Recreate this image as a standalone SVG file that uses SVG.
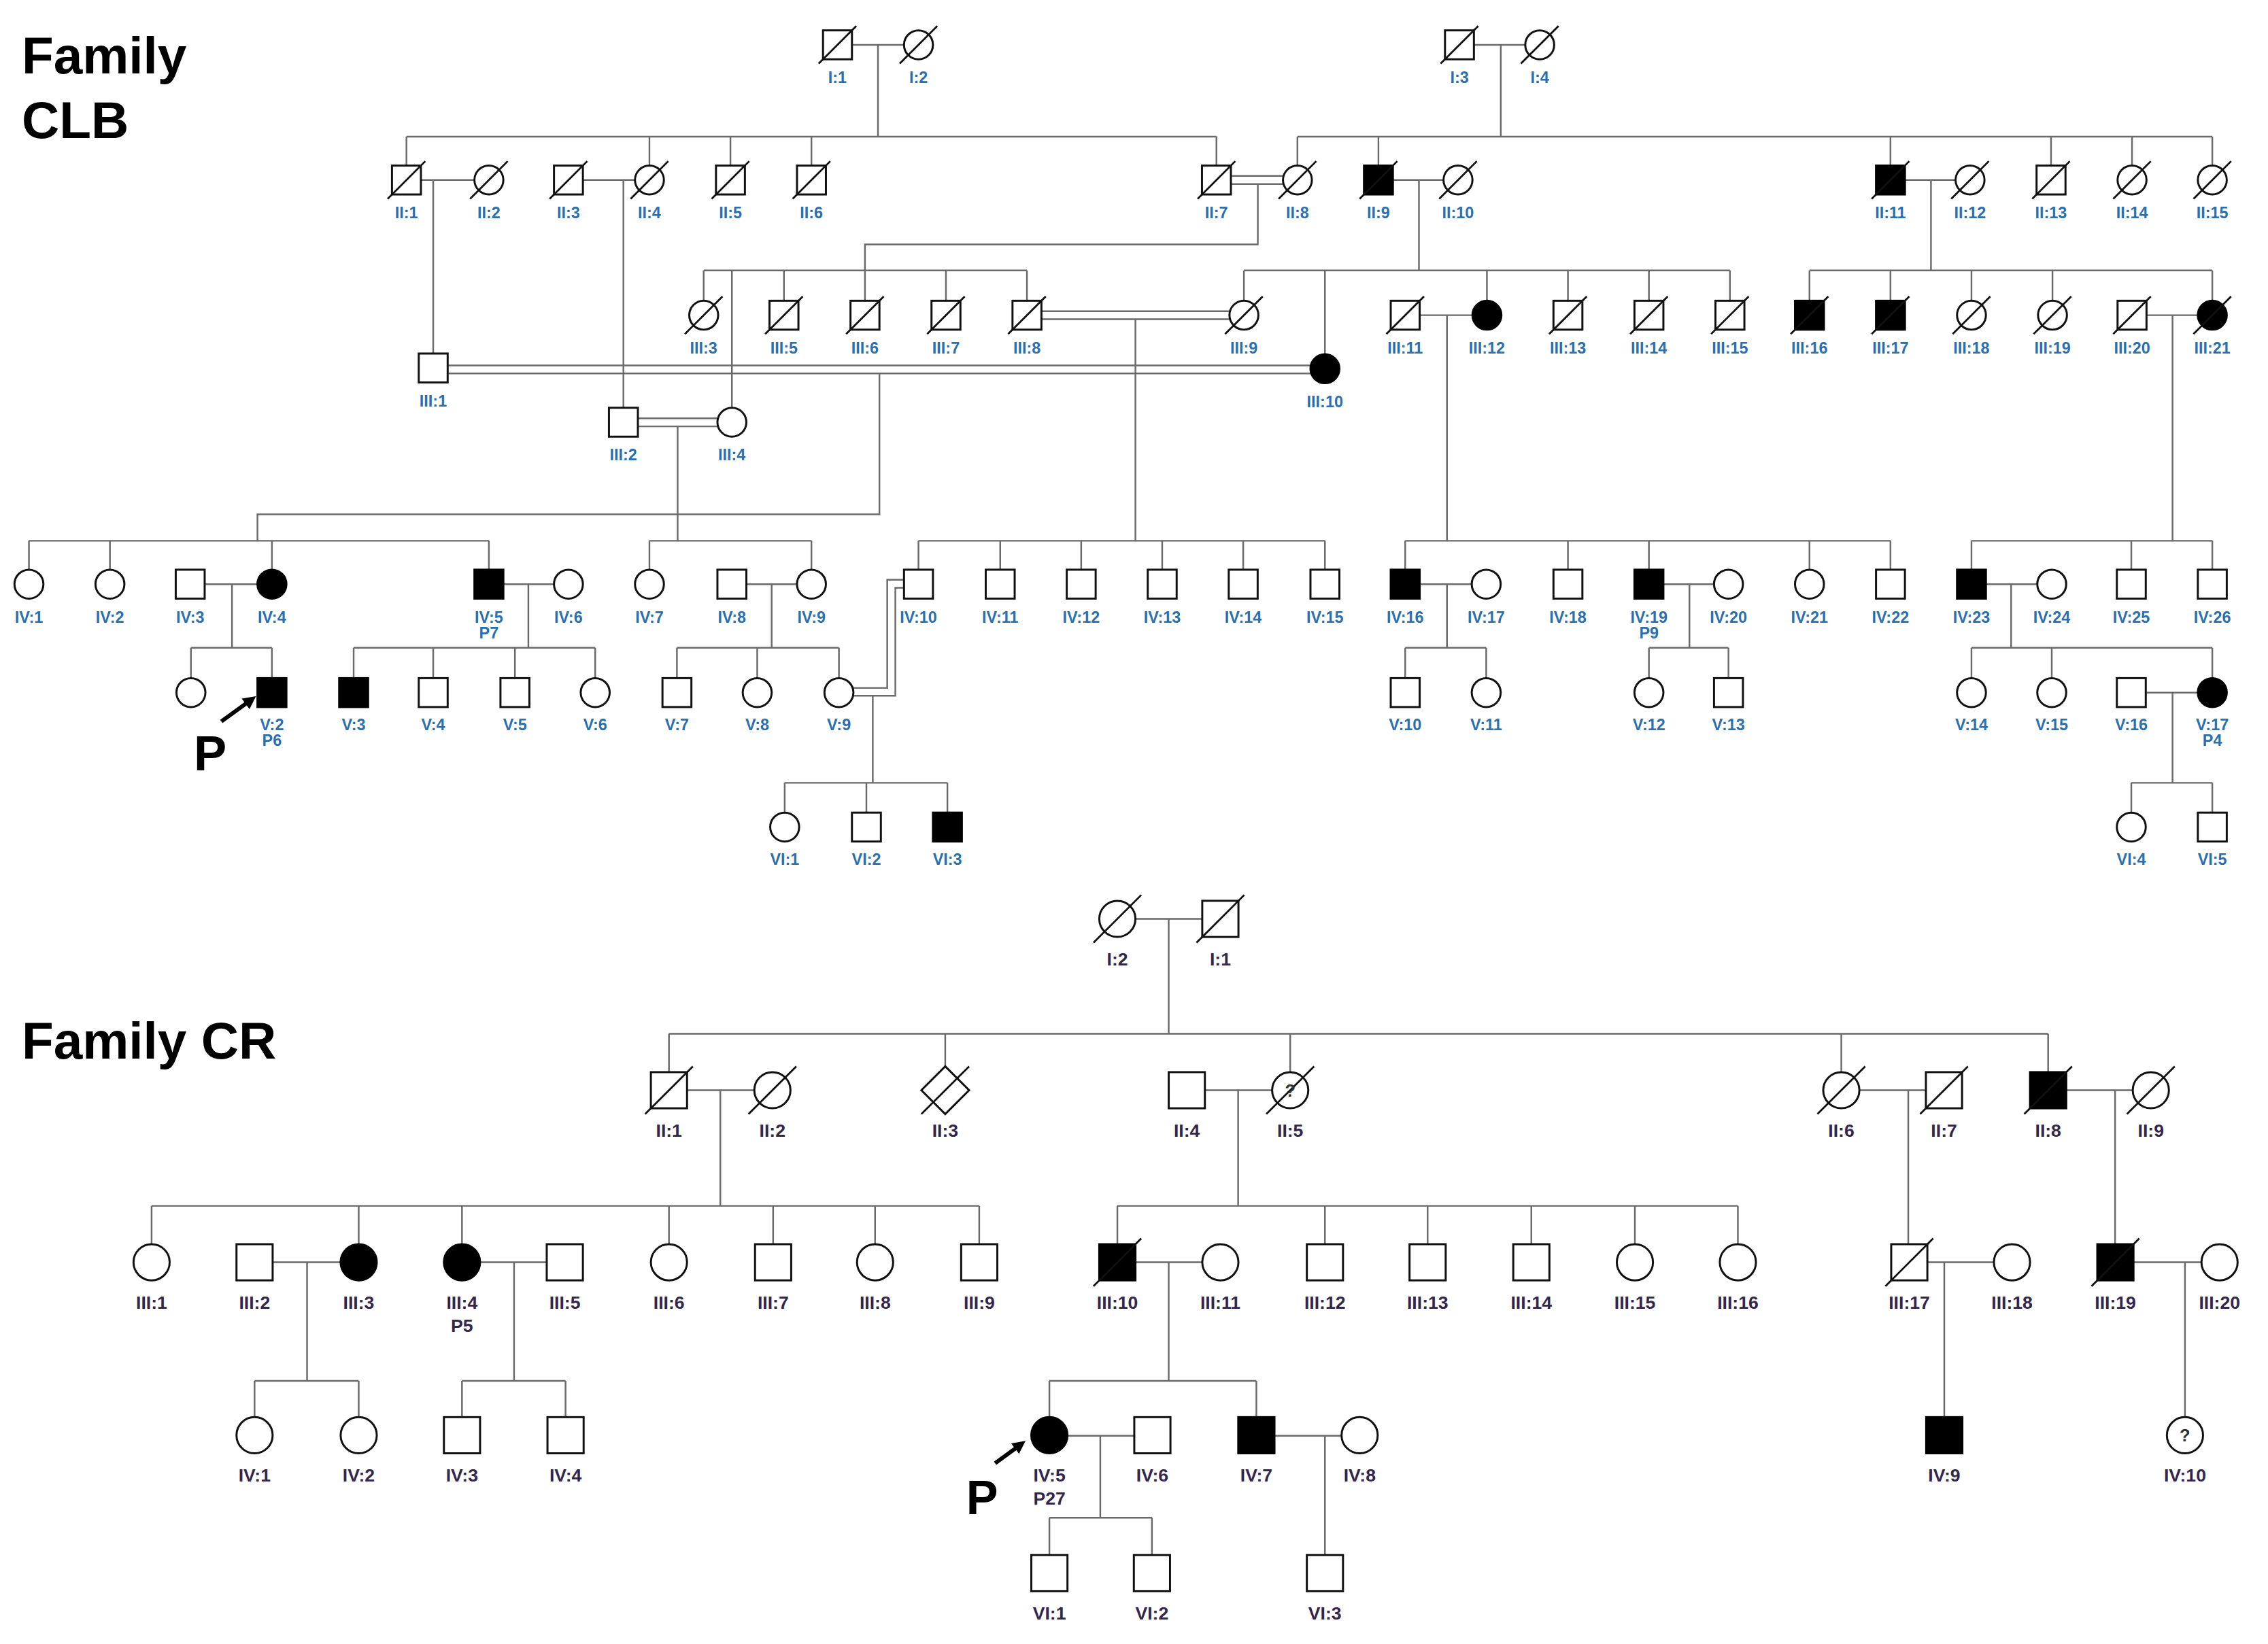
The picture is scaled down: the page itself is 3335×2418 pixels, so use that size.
<svg xmlns="http://www.w3.org/2000/svg" xmlns:xlink="http://www.w3.org/1999/xlink" width="3335" height="2418" viewBox="0 0 3335 2418">
<defs>
<style>
.l{stroke:#6a6a6a;stroke-width:1.15;fill:none}
.s{fill:#fff;stroke:#111;stroke-width:1.4}
.a{fill:#000;stroke:#000;stroke-width:1.4}
.d{stroke:#111;stroke-width:1.3;fill:none}
.t{font-family:"Liberation Sans",Arial,sans-serif;font-weight:bold;text-anchor:middle}
.tb{font-size:11px;fill:#2b6fae}
.tr{font-size:12.5px;fill:#33264a}
.q{font-family:"Liberation Sans",Arial,sans-serif;font-weight:bold;font-size:12px;fill:#333;text-anchor:middle}
.ti{font-family:"Liberation Sans",Arial,sans-serif;font-weight:bold;font-size:36px;fill:#000}
.bp{font-family:"Liberation Sans",Arial,sans-serif;font-weight:bold;fill:#000}
</style>
<rect id="bS" x="-10" y="-10" width="20" height="20"/>
<circle id="bC" r="10"/>
<line id="bD" x1="-13" y1="13" x2="13" y2="-13"/>
<rect id="rS" x="-12.5" y="-12.5" width="25" height="25"/>
<circle id="rC" r="12.5"/>
<line id="rD" x1="-16.5" y1="16.5" x2="16.5" y2="-16.5"/>
<path id="rX" d="M0,-16.5L16.5,0L0,16.5L-16.5,0Z"/>
</defs>
<rect width="3335" height="2418" fill="#fff"/>
<g transform="scale(2.12691,2.12665)">
<text class="ti" x="15" y="51">Family</text>
<text class="ti" x="15" y="95.5">CLB</text>
<text class="ti" x="15" y="732">Family CR</text>

<g id="connectors">
<path class="l" d="M589,31H625M607,31V94.5M281,94.5H841M281,94.5V114.5M449,94.5V114.5M505,94.5V114.5M561,94.5V114.5M841,94.5V114.5M1019,31H1054.5M1037.6,31V94.5M897,94.5H1529.5M897,94.5V114.5M953,94.5V114.5M1307,94.5V114.5M1418,94.5V114.5M1474,94.5V114.5M1529.5,94.5V114.5"/>
<path class="l" d="M291,124.5H328M299.5,124.5V244.5M403,124.5H439M431,124.5V282M851,121.7H887M851,127.3H887M869.6,127.3V169H598V208M963,124.5H998M981,124.5V187M1317,124.5H1352M1335,124.5V187"/>
<path class="l" d="M486.5,187H710M486.5,187V208M506,187V282M542,187V208M654,187V208M710,187V208M860,187H1196M860,187V208M916,187V245M1028,187V208M1084,187V208M1140,187V208M1196,187V208M1251,187H1529.5M1251,187V208M1307,187V208M1363,187V208M1419,187V208M1529.5,187V208"/>
<path class="l" d="M720,215.2H850M720,220.8H850M785,220.8V374M981.5,218H1018M1000.4,218V374M1484,218H1519.5M1502,218V374M309.5,252.7H906M309.5,258.3H906M608,258.3V355.7H178V374M441,289.3H496M441,294.9H496M468.5,294.9V374"/>
<path class="l" d="M20,374H338M20,374V394M76,374V394M188,374V394M338,374V394M449,374H561M449,374V394M561,374V394M635,374H916M635,374V394M691.5,374V394M747.5,374V394M803.5,374V394M859.5,374V394M916,374V394M971.5,374H1307M971.5,374V394M1084,374V394M1140,374V394M1251,374V394M1307,374V394M1363,374H1529.5M1363,374V394M1473.5,374V394M1529.5,374V394"/>
<path class="l" d="M141.5,404H178M160.4,404V448M348,404H383M365.3,404V448M516,404H551M533.5,404V448M981.5,404H1017.5M1000.4,404V448M1150,404H1185M1168,404V448M1373,404H1408.5M1390.4,404V448"/>
<path class="l" d="M132,448H188M132,448V469M188,448V469M244.5,448H411.5M244.5,448V469M299.5,448V469M356,448V469M411.5,448V469M468,448H580M468,448V469M523.5,448V469M580,448V469M971.5,448H1027.5M971.5,448V469M1027.5,448V469M1140,448H1195M1140,448V469M1195,448V469M1363,448H1529.5M1363,448V469M1418.5,448V469M1529.5,448V469"/>
<path class="l" d="M590,475.8H613.4V401H625M590,481.2H619V406.5H625M603.4,481.2V541.4M1483.5,479H1519.5M1502,479V541.4M542.5,541.4H655M542.5,541.4V562M599,541.4V562M655,541.4V562M1473.5,541.4H1529.5M1473.5,541.4V562M1529.5,541.4V562"/>
<path class="l" d="M785,635.5H831M808,635.5V715M462.5,715H1416M462.5,715V741.5M653.5,715V737.5M892,715V741.5M1273,715V741.5M1416,715V741.5M475,754H521.5M498,754V834M833,754H879.5M856,754V834M1285.5,754H1331.5M1319.3,754V860.5M1428.5,754H1474.5M1462.3,754V860.5"/>
<path class="l" d="M104.8,834H677M104.8,834V860.5M248,834V860.5M319.4,834V860.5M462.5,834V860.5M534.5,834V860.5M605,834V860.5M677,834V860.5M772.5,834H1201.5M772.5,834V860.5M916,834V860.5M987,834V860.5M1058.7,834V860.5M1130.3,834V860.5M1201.5,834V860.5"/>
<path class="l" d="M188.5,873H235.5M212.3,873V955M332,873H378M355.4,873V955M785,873H831M808,873V955M1332.5,873H1378.5M1344.2,873V980M1475,873H1522M1510.6,873V980M176,955H248M176,955V980M248,955V980M319.4,955H391M319.4,955V980M391,955V980M725.5,955H868.6M725.5,955V980M868.6,955V980M738,993H784.5M760.7,993V1049.7M881,993H927.5M916,993V1075.5M725.5,1049.7H796.4M725.5,1049.7V1075.5M796.4,1049.7V1075.5"/>
</g>

<g id="proband-markers">
<text class="bp" x="134" y="533" font-size="34">P</text>
<line x1="153" y1="499" x2="170.5" y2="486.3" stroke="#000" stroke-width="2.8"/>
<polygon points="177,481.5 172.5,490.5 167.1,483.2" fill="#000"/>
<text class="bp" x="668" y="1047" font-size="33">P</text>
<line x1="688" y1="1012" x2="702.5" y2="1001.4" stroke="#000" stroke-width="2.8"/>
<polygon points="709,996.5 704.5,1005.5 699.1,998.3" fill="#000"/>
</g>

<g id="family-CLB">
<g id="clb-I-1" transform="translate(579,31)"><use href="#bS" class="s"/><use href="#bD" class="d"/><text class="t tb" y="26.5">I:1</text></g>
<g id="clb-I-2" transform="translate(635,31)"><use href="#bC" class="s"/><use href="#bD" class="d"/><text class="t tb" y="26.5">I:2</text></g>
<g id="clb-I-3" transform="translate(1009,31)"><use href="#bS" class="s"/><use href="#bD" class="d"/><text class="t tb" y="26.5">I:3</text></g>
<g id="clb-I-4" transform="translate(1064.5,31)"><use href="#bC" class="s"/><use href="#bD" class="d"/><text class="t tb" y="26.5">I:4</text></g>

<g id="clb-II-1" transform="translate(281,124.5)"><use href="#bS" class="s"/><use href="#bD" class="d"/><text class="t tb" y="26.5">II:1</text></g>
<g id="clb-II-2" transform="translate(338,124.5)"><use href="#bC" class="s"/><use href="#bD" class="d"/><text class="t tb" y="26.5">II:2</text></g>
<g id="clb-II-3" transform="translate(393,124.5)"><use href="#bS" class="s"/><use href="#bD" class="d"/><text class="t tb" y="26.5">II:3</text></g>
<g id="clb-II-4" transform="translate(449,124.5)"><use href="#bC" class="s"/><use href="#bD" class="d"/><text class="t tb" y="26.5">II:4</text></g>
<g id="clb-II-5" transform="translate(505,124.5)"><use href="#bS" class="s"/><use href="#bD" class="d"/><text class="t tb" y="26.5">II:5</text></g>
<g id="clb-II-6" transform="translate(561,124.5)"><use href="#bS" class="s"/><use href="#bD" class="d"/><text class="t tb" y="26.5">II:6</text></g>
<g id="clb-II-7" transform="translate(841,124.5)"><use href="#bS" class="s"/><use href="#bD" class="d"/><text class="t tb" y="26.5">II:7</text></g>
<g id="clb-II-8" transform="translate(897,124.5)"><use href="#bC" class="s"/><use href="#bD" class="d"/><text class="t tb" y="26.5">II:8</text></g>
<g id="clb-II-9" transform="translate(953,124.5)"><use href="#bS" class="a"/><use href="#bD" class="d"/><text class="t tb" y="26.5">II:9</text></g>
<g id="clb-II-10" transform="translate(1008,124.5)"><use href="#bC" class="s"/><use href="#bD" class="d"/><text class="t tb" y="26.5">II:10</text></g>
<g id="clb-II-11" transform="translate(1307,124.5)"><use href="#bS" class="a"/><use href="#bD" class="d"/><text class="t tb" y="26.5">II:11</text></g>
<g id="clb-II-12" transform="translate(1362,124.5)"><use href="#bC" class="s"/><use href="#bD" class="d"/><text class="t tb" y="26.5">II:12</text></g>
<g id="clb-II-13" transform="translate(1418,124.5)"><use href="#bS" class="s"/><use href="#bD" class="d"/><text class="t tb" y="26.5">II:13</text></g>
<g id="clb-II-14" transform="translate(1474,124.5)"><use href="#bC" class="s"/><use href="#bD" class="d"/><text class="t tb" y="26.5">II:14</text></g>
<g id="clb-II-15" transform="translate(1529.5,124.5)"><use href="#bC" class="s"/><use href="#bD" class="d"/><text class="t tb" y="26.5">II:15</text></g>

<g id="clb-III-1" transform="translate(299.5,254.5)"><use href="#bS" class="s"/><text class="t tb" y="26.5">III:1</text></g>
<g id="clb-III-2" transform="translate(431,292)"><use href="#bS" class="s"/><text class="t tb" y="26.5">III:2</text></g>
<g id="clb-III-3" transform="translate(486.5,218)"><use href="#bC" class="s"/><use href="#bD" class="d"/><text class="t tb" y="26.5">III:3</text></g>
<g id="clb-III-4" transform="translate(506,292)"><use href="#bC" class="s"/><text class="t tb" y="26.5">III:4</text></g>
<g id="clb-III-5" transform="translate(542,218)"><use href="#bS" class="s"/><use href="#bD" class="d"/><text class="t tb" y="26.5">III:5</text></g>
<g id="clb-III-6" transform="translate(598,218)"><use href="#bS" class="s"/><use href="#bD" class="d"/><text class="t tb" y="26.5">III:6</text></g>
<g id="clb-III-7" transform="translate(654,218)"><use href="#bS" class="s"/><use href="#bD" class="d"/><text class="t tb" y="26.5">III:7</text></g>
<g id="clb-III-8" transform="translate(710,218)"><use href="#bS" class="s"/><use href="#bD" class="d"/><text class="t tb" y="26.5">III:8</text></g>
<g id="clb-III-9" transform="translate(860,218)"><use href="#bC" class="s"/><use href="#bD" class="d"/><text class="t tb" y="26.5">III:9</text></g>
<g id="clb-III-10" transform="translate(916,255)"><use href="#bC" class="a"/><text class="t tb" y="26.5">III:10</text></g>
<g id="clb-III-11" transform="translate(971.5,218)"><use href="#bS" class="s"/><use href="#bD" class="d"/><text class="t tb" y="26.5">III:11</text></g>
<g id="clb-III-12" transform="translate(1028,218)"><use href="#bC" class="a"/><text class="t tb" y="26.5">III:12</text></g>
<g id="clb-III-13" transform="translate(1084,218)"><use href="#bS" class="s"/><use href="#bD" class="d"/><text class="t tb" y="26.5">III:13</text></g>
<g id="clb-III-14" transform="translate(1140,218)"><use href="#bS" class="s"/><use href="#bD" class="d"/><text class="t tb" y="26.5">III:14</text></g>
<g id="clb-III-15" transform="translate(1196,218)"><use href="#bS" class="s"/><use href="#bD" class="d"/><text class="t tb" y="26.5">III:15</text></g>
<g id="clb-III-16" transform="translate(1251,218)"><use href="#bS" class="a"/><use href="#bD" class="d"/><text class="t tb" y="26.5">III:16</text></g>
<g id="clb-III-17" transform="translate(1307,218)"><use href="#bS" class="a"/><use href="#bD" class="d"/><text class="t tb" y="26.5">III:17</text></g>
<g id="clb-III-18" transform="translate(1363,218)"><use href="#bC" class="s"/><use href="#bD" class="d"/><text class="t tb" y="26.5">III:18</text></g>
<g id="clb-III-19" transform="translate(1419,218)"><use href="#bC" class="s"/><use href="#bD" class="d"/><text class="t tb" y="26.5">III:19</text></g>
<g id="clb-III-20" transform="translate(1474,218)"><use href="#bS" class="s"/><use href="#bD" class="d"/><text class="t tb" y="26.5">III:20</text></g>
<g id="clb-III-21" transform="translate(1529.5,218)"><use href="#bC" class="a"/><use href="#bD" class="d"/><text class="t tb" y="26.5">III:21</text></g>

<g id="clb-IV-1" transform="translate(20,404)"><use href="#bC" class="s"/><text class="t tb" y="26.5">IV:1</text></g>
<g id="clb-IV-2" transform="translate(76,404)"><use href="#bC" class="s"/><text class="t tb" y="26.5">IV:2</text></g>
<g id="clb-IV-3" transform="translate(131.5,404)"><use href="#bS" class="s"/><text class="t tb" y="26.5">IV:3</text></g>
<g id="clb-IV-4" transform="translate(188,404)"><use href="#bC" class="a"/><text class="t tb" y="26.5">IV:4</text></g>
<g id="clb-IV-5" transform="translate(338,404)"><use href="#bS" class="a"/><text class="t tb" y="26.5">IV:5</text><text class="t tb" y="37.5">P7</text></g>
<g id="clb-IV-6" transform="translate(393,404)"><use href="#bC" class="s"/><text class="t tb" y="26.5">IV:6</text></g>
<g id="clb-IV-7" transform="translate(449,404)"><use href="#bC" class="s"/><text class="t tb" y="26.5">IV:7</text></g>
<g id="clb-IV-8" transform="translate(506,404)"><use href="#bS" class="s"/><text class="t tb" y="26.5">IV:8</text></g>
<g id="clb-IV-9" transform="translate(561,404)"><use href="#bC" class="s"/><text class="t tb" y="26.5">IV:9</text></g>
<g id="clb-IV-10" transform="translate(635,404)"><use href="#bS" class="s"/><text class="t tb" y="26.5">IV:10</text></g>
<g id="clb-IV-11" transform="translate(691.5,404)"><use href="#bS" class="s"/><text class="t tb" y="26.5">IV:11</text></g>
<g id="clb-IV-12" transform="translate(747.5,404)"><use href="#bS" class="s"/><text class="t tb" y="26.5">IV:12</text></g>
<g id="clb-IV-13" transform="translate(803.5,404)"><use href="#bS" class="s"/><text class="t tb" y="26.5">IV:13</text></g>
<g id="clb-IV-14" transform="translate(859.5,404)"><use href="#bS" class="s"/><text class="t tb" y="26.5">IV:14</text></g>
<g id="clb-IV-15" transform="translate(916,404)"><use href="#bS" class="s"/><text class="t tb" y="26.5">IV:15</text></g>
<g id="clb-IV-16" transform="translate(971.5,404)"><use href="#bS" class="a"/><text class="t tb" y="26.5">IV:16</text></g>
<g id="clb-IV-17" transform="translate(1027.5,404)"><use href="#bC" class="s"/><text class="t tb" y="26.5">IV:17</text></g>
<g id="clb-IV-18" transform="translate(1084,404)"><use href="#bS" class="s"/><text class="t tb" y="26.5">IV:18</text></g>
<g id="clb-IV-19" transform="translate(1140,404)"><use href="#bS" class="a"/><text class="t tb" y="26.5">IV:19</text><text class="t tb" y="37.5">P9</text></g>
<g id="clb-IV-20" transform="translate(1195,404)"><use href="#bC" class="s"/><text class="t tb" y="26.5">IV:20</text></g>
<g id="clb-IV-21" transform="translate(1251,404)"><use href="#bC" class="s"/><text class="t tb" y="26.5">IV:21</text></g>
<g id="clb-IV-22" transform="translate(1307,404)"><use href="#bS" class="s"/><text class="t tb" y="26.5">IV:22</text></g>
<g id="clb-IV-23" transform="translate(1363,404)"><use href="#bS" class="a"/><text class="t tb" y="26.5">IV:23</text></g>
<g id="clb-IV-24" transform="translate(1418.5,404)"><use href="#bC" class="s"/><text class="t tb" y="26.5">IV:24</text></g>
<g id="clb-IV-25" transform="translate(1473.5,404)"><use href="#bS" class="s"/><text class="t tb" y="26.5">IV:25</text></g>
<g id="clb-IV-26" transform="translate(1529.5,404)"><use href="#bS" class="s"/><text class="t tb" y="26.5">IV:26</text></g>

<g id="clb-V-1" transform="translate(132,479)"><use href="#bC" class="s"/></g>
<g id="clb-V-2" transform="translate(188,479)"><use href="#bS" class="a"/><text class="t tb" y="26">V:2</text><text class="t tb" y="37">P6</text></g>
<g id="clb-V-3" transform="translate(244.5,479)"><use href="#bS" class="a"/><text class="t tb" y="26">V:3</text></g>
<g id="clb-V-4" transform="translate(299.5,479)"><use href="#bS" class="s"/><text class="t tb" y="26">V:4</text></g>
<g id="clb-V-5" transform="translate(356,479)"><use href="#bS" class="s"/><text class="t tb" y="26">V:5</text></g>
<g id="clb-V-6" transform="translate(411.5,479)"><use href="#bC" class="s"/><text class="t tb" y="26">V:6</text></g>
<g id="clb-V-7" transform="translate(468,479)"><use href="#bS" class="s"/><text class="t tb" y="26">V:7</text></g>
<g id="clb-V-8" transform="translate(523.5,479)"><use href="#bC" class="s"/><text class="t tb" y="26">V:8</text></g>
<g id="clb-V-9" transform="translate(580,479)"><use href="#bC" class="s"/><text class="t tb" y="26">V:9</text></g>
<g id="clb-V-10" transform="translate(971.5,479)"><use href="#bS" class="s"/><text class="t tb" y="26">V:10</text></g>
<g id="clb-V-11" transform="translate(1027.5,479)"><use href="#bC" class="s"/><text class="t tb" y="26">V:11</text></g>
<g id="clb-V-12" transform="translate(1140,479)"><use href="#bC" class="s"/><text class="t tb" y="26">V:12</text></g>
<g id="clb-V-13" transform="translate(1195,479)"><use href="#bS" class="s"/><text class="t tb" y="26">V:13</text></g>
<g id="clb-V-14" transform="translate(1363,479)"><use href="#bC" class="s"/><text class="t tb" y="26">V:14</text></g>
<g id="clb-V-15" transform="translate(1418.5,479)"><use href="#bC" class="s"/><text class="t tb" y="26">V:15</text></g>
<g id="clb-V-16" transform="translate(1473.5,479)"><use href="#bS" class="s"/><text class="t tb" y="26">V:16</text></g>
<g id="clb-V-17" transform="translate(1529.5,479)"><use href="#bC" class="a"/><text class="t tb" y="26">V:17</text><text class="t tb" y="37">P4</text></g>

<g id="clb-VI-1" transform="translate(542.5,572)"><use href="#bC" class="s"/><text class="t tb" y="26">VI:1</text></g>
<g id="clb-VI-2" transform="translate(599,572)"><use href="#bS" class="s"/><text class="t tb" y="26">VI:2</text></g>
<g id="clb-VI-3" transform="translate(655,572)"><use href="#bS" class="a"/><text class="t tb" y="26">VI:3</text></g>
<g id="clb-VI-4" transform="translate(1473.5,572)"><use href="#bC" class="s"/><text class="t tb" y="26">VI:4</text></g>
<g id="clb-VI-5" transform="translate(1529.5,572)"><use href="#bS" class="s"/><text class="t tb" y="26">VI:5</text></g>
</g>

<g id="family-CR">
<g id="cr-I-2" transform="translate(772.5,635.5)"><use href="#rC" class="s"/><use href="#rD" class="d"/><text class="t tr" y="32">I:2</text></g>
<g id="cr-I-1" transform="translate(843.7,635.5)"><use href="#rS" class="s"/><use href="#rD" class="d"/><text class="t tr" y="32">I:1</text></g>

<g id="cr-II-1" transform="translate(462.5,754)"><use href="#rS" class="s"/><use href="#rD" class="d"/><text class="t tr" y="32">II:1</text></g>
<g id="cr-II-2" transform="translate(534,754)"><use href="#rC" class="s"/><use href="#rD" class="d"/><text class="t tr" y="32">II:2</text></g>
<g id="cr-II-3" transform="translate(653.5,754)"><use href="#rX" class="s"/><use href="#rD" class="d"/><text class="t tr" y="32">II:3</text></g>
<g id="cr-II-4" transform="translate(820.5,754)"><use href="#rS" class="s"/><text class="t tr" y="32">II:4</text></g>
<g id="cr-II-5" transform="translate(892,754)"><use href="#rC" class="s"/><use href="#rD" class="d"/><text class="q" y="4.3">?</text><text class="t tr" y="32">II:5</text></g>
<g id="cr-II-6" transform="translate(1273,754)"><use href="#rC" class="s"/><use href="#rD" class="d"/><text class="t tr" y="32">II:6</text></g>
<g id="cr-II-7" transform="translate(1344,754)"><use href="#rS" class="s"/><use href="#rD" class="d"/><text class="t tr" y="32">II:7</text></g>
<g id="cr-II-8" transform="translate(1416,754)"><use href="#rS" class="a"/><use href="#rD" class="d"/><text class="t tr" y="32">II:8</text></g>
<g id="cr-II-9" transform="translate(1487,754)"><use href="#rC" class="s"/><use href="#rD" class="d"/><text class="t tr" y="32">II:9</text></g>

<g id="cr-III-1" transform="translate(104.8,873)"><use href="#rC" class="s"/><text class="t tr" y="32">III:1</text></g>
<g id="cr-III-2" transform="translate(176,873)"><use href="#rS" class="s"/><text class="t tr" y="32">III:2</text></g>
<g id="cr-III-3" transform="translate(248,873)"><use href="#rC" class="a"/><text class="t tr" y="32">III:3</text></g>
<g id="cr-III-4" transform="translate(319.4,873)"><use href="#rC" class="a"/><text class="t tr" y="32">III:4</text><text class="t tr" y="48.3">P5</text></g>
<g id="cr-III-5" transform="translate(390.5,873)"><use href="#rS" class="s"/><text class="t tr" y="32">III:5</text></g>
<g id="cr-III-6" transform="translate(462.5,873)"><use href="#rC" class="s"/><text class="t tr" y="32">III:6</text></g>
<g id="cr-III-7" transform="translate(534.5,873)"><use href="#rS" class="s"/><text class="t tr" y="32">III:7</text></g>
<g id="cr-III-8" transform="translate(605,873)"><use href="#rC" class="s"/><text class="t tr" y="32">III:8</text></g>
<g id="cr-III-9" transform="translate(677,873)"><use href="#rS" class="s"/><text class="t tr" y="32">III:9</text></g>
<g id="cr-III-10" transform="translate(772.5,873)"><use href="#rS" class="a"/><use href="#rD" class="d"/><text class="t tr" y="32">III:10</text></g>
<g id="cr-III-11" transform="translate(843.7,873)"><use href="#rC" class="s"/><text class="t tr" y="32">III:11</text></g>
<g id="cr-III-12" transform="translate(916,873)"><use href="#rS" class="s"/><text class="t tr" y="32">III:12</text></g>
<g id="cr-III-13" transform="translate(987,873)"><use href="#rS" class="s"/><text class="t tr" y="32">III:13</text></g>
<g id="cr-III-14" transform="translate(1058.7,873)"><use href="#rS" class="s"/><text class="t tr" y="32">III:14</text></g>
<g id="cr-III-15" transform="translate(1130.3,873)"><use href="#rC" class="s"/><text class="t tr" y="32">III:15</text></g>
<g id="cr-III-16" transform="translate(1201.5,873)"><use href="#rC" class="s"/><text class="t tr" y="32">III:16</text></g>
<g id="cr-III-17" transform="translate(1320,873)"><use href="#rS" class="s"/><use href="#rD" class="d"/><text class="t tr" y="32">III:17</text></g>
<g id="cr-III-18" transform="translate(1391,873)"><use href="#rC" class="s"/><text class="t tr" y="32">III:18</text></g>
<g id="cr-III-19" transform="translate(1462.5,873)"><use href="#rS" class="a"/><use href="#rD" class="d"/><text class="t tr" y="32">III:19</text></g>
<g id="cr-III-20" transform="translate(1534.5,873)"><use href="#rC" class="s"/><text class="t tr" y="32">III:20</text></g>

<g id="cr-IV-1" transform="translate(176,992.6)"><use href="#rC" class="s"/><text class="t tr" y="32">IV:1</text></g>
<g id="cr-IV-2" transform="translate(248,992.6)"><use href="#rC" class="s"/><text class="t tr" y="32">IV:2</text></g>
<g id="cr-IV-3" transform="translate(319.4,992.6)"><use href="#rS" class="s"/><text class="t tr" y="32">IV:3</text></g>
<g id="cr-IV-4" transform="translate(391,992.6)"><use href="#rS" class="s"/><text class="t tr" y="32">IV:4</text></g>
<g id="cr-IV-5" transform="translate(725.5,992.6)"><use href="#rC" class="a"/><text class="t tr" y="32">IV:5</text><text class="t tr" y="47.8">P27</text></g>
<g id="cr-IV-6" transform="translate(796.7,992.6)"><use href="#rS" class="s"/><text class="t tr" y="32">IV:6</text></g>
<g id="cr-IV-7" transform="translate(868.6,992.6)"><use href="#rS" class="a"/><text class="t tr" y="32">IV:7</text></g>
<g id="cr-IV-8" transform="translate(940,992.6)"><use href="#rC" class="s"/><text class="t tr" y="32">IV:8</text></g>
<g id="cr-IV-9" transform="translate(1344.2,992.6)"><use href="#rS" class="a"/><text class="t tr" y="32">IV:9</text></g>
<g id="cr-IV-10" transform="translate(1510.6,992.6)"><use href="#rC" class="s"/><text class="q" y="4.3">?</text><text class="t tr" y="32">IV:10</text></g>

<g id="cr-VI-1" transform="translate(725.5,1088)"><use href="#rS" class="s"/><text class="t tr" y="32">VI:1</text></g>
<g id="cr-VI-2" transform="translate(796.4,1088)"><use href="#rS" class="s"/><text class="t tr" y="32">VI:2</text></g>
<g id="cr-VI-3" transform="translate(916,1088)"><use href="#rS" class="s"/><text class="t tr" y="32">VI:3</text></g>
</g>
</g>
</svg>
